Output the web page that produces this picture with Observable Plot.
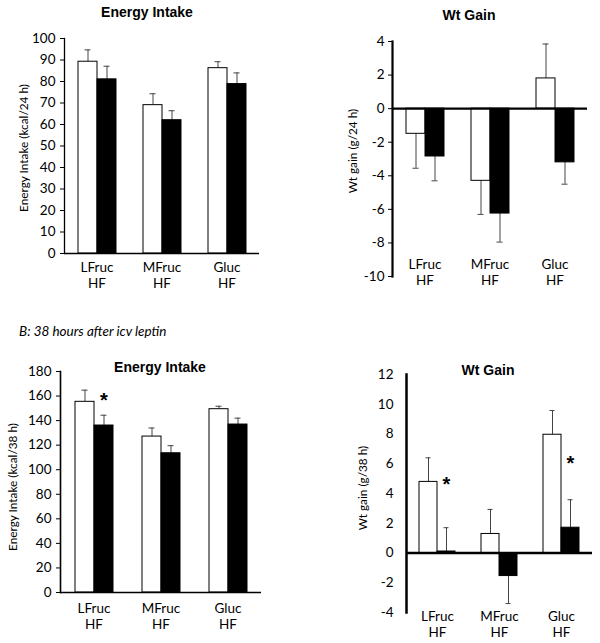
<!DOCTYPE html>
<html>
<head>
<meta charset="utf-8">
<script src="https://cdn.jsdelivr.net/npm/d3@7"></script>
<script src="https://cdn.jsdelivr.net/npm/@observablehq/plot@0.6"></script>
<style>
  body { margin: 0; background: #fff; }
  #root { position: relative; width: 600px; height: 643px; overflow: hidden; font-family: Lato, sans-serif; color: #000; }
  .panel { position: absolute; }
  .title { position: absolute; font-family: "Liberation Sans", Arial, sans-serif; font-weight: bold; font-size: 14px; transform: translate(-50%, -50%); white-space: nowrap; }
  .ylab { position: absolute; font-family: Lato, sans-serif; font-size: 11.8px; transform: translate(-50%, -50%) rotate(-90deg); white-space: nowrap; }
  .sub { position: absolute; font-family: Lato, sans-serif; font-style: italic; font-size: 13.5px; transform: translateY(-50%); white-space: nowrap; }
</style>
</head>
<body>
<div id="root"></div>
<script>
// ---- data ----
const categories = ["LFruc", "MFruc", "Gluc"];
const categoryLabels = ["LFruc\nHF", "MFruc\nHF", "Gluc\nHF"];
const groups = ["vehicle", "leptin"];
const panelTitles = ["Energy Intake", "Wt Gain", "Energy Intake", "Wt Gain"];
const yLabels = ["Energy Intake (kcal/24 h)", "Wt gain (g/24 h)", "Energy Intake (kcal/38 h)", "Wt gain (g/38 h)"];
const subtitleB = "B: 38 hours after icv leptin";

const ei24Open = [89.2, 69, 86.2];
const ei24OpenSem = [5.5, 5.3, 3];
const ei24Filled = [81, 62, 78.8];
const ei24FilledSem = [6.1, 4.4, 5.2];
const ei24Ticks = [0, 10, 20, 30, 40, 50, 60, 70, 80, 90, 100];

const wt24Open = [-1.5, -4.3, 1.8];
const wt24OpenSem = [2.05, 2.0, 2.05];
const wt24Filled = [-2.85, -6.25, -3.2];
const wt24FilledSem = [1.45, 1.7, 1.3];
const wt24Ticks = [-10, -8, -6, -4, -2, 0, 2, 4];

const ei38Open = [155.3, 127, 149.3];
const ei38OpenSem = [9.5, 7, 2.4];
const ei38Filled = [136, 113.4, 136.8];
const ei38FilledSem = [8.4, 6.2, 5.2];
const ei38Ticks = [0, 20, 40, 60, 80, 100, 120, 140, 160, 180];
const ei38Stars = [{cat: "LFruc", group: "leptin", y: 161}];

const wt38Open = [4.78, 1.28, 7.95];
const wt38OpenSem = [1.62, 1.65, 1.63];
const wt38Filled = [0.1, -1.55, 1.7];
const wt38FilledSem = [1.6, 1.85, 1.88];
const wt38Ticks = [-4, -2, 0, 2, 4, 6, 8, 10, 12];
const wt38Stars = [{cat: "LFruc", group: "leptin", y: 5.0}, {cat: "Gluc", group: "leptin", y: 6.4}];

// ---- drawing ----
function buildRows(open, openSem, filled, filledSem) {
  const rows = [];
  categories.forEach((c, i) => {
    rows.push({cat: c, group: "vehicle", value: open[i], end: open[i] + (open[i] < 0 ? -1 : 1) * openSem[i]});
    rows.push({cat: c, group: "leptin", value: filled[i], end: filled[i] + (filled[i] < 0 ? -1 : 1) * filledSem[i]});
  });
  return rows;
}

function barPanel(o) {
  const rows = buildRows(o.open, o.openSem, o.filled, o.filledSem);
  return Plot.plot({
    width: o.width, height: o.height,
    marginLeft: o.ml, marginRight: o.mr, marginTop: o.mt, marginBottom: o.mb,
    style: {fontFamily: "Lato, sans-serif", fontSize: "13px", background: "transparent", color: "black", overflow: "visible"},
    fx: {domain: categories, padding: 0, label: null},
    x: {domain: groups, paddingInner: 0, paddingOuter: 0.7, axis: null},
    y: {domain: [o.ticks[0], o.ticks[o.ticks.length - 1]], label: null},
    marks: [
      Plot.ruleX(rows, {fx: "cat", x: "group", y1: "value", y2: "end", stroke: "#444", strokeWidth: 1}),
      Plot.tickY(rows, {fx: "cat", x: "group", y: "end", stroke: "#444", strokeWidth: 1, insetLeft: 6.5, insetRight: 6.5}),
      Plot.barY(rows, {fx: "cat", x: "group", y: "value", fill: d => d.group === "vehicle" ? "white" : "black", stroke: "black", strokeWidth: 1}),
      Plot.ruleY([0], {stroke: "black", strokeWidth: o.zeroWidth}),
      Plot.frame({anchor: "left", facetAnchor: "left", stroke: "black", strokeWidth: o.axisWidth}),
      Plot.axisY({ticks: o.ticks, tickSize: o.tickSize, tickPadding: o.tickPadding, label: null, fontSize: 13.5,
        tickFormat: d => String(d)}),
      Plot.axisFx({anchor: "bottom", tickSize: 0, tickPadding: o.fxPadding, label: null, fontSize: 13.5, lineHeight: 1.2,
        tickFormat: c => categoryLabels[categories.indexOf(c)]}),
      Plot.text(o.stars || [], {fx: "cat", x: "group", y: "y", text: () => "*", fontSize: 20, fontWeight: "bold",
        fontFamily: "Liberation Sans, Arial, sans-serif", dy: 6})
    ]
  });
}

const root = document.getElementById("root");
function place(el, left, top) {
  el.classList.add("panel");
  el.style.left = left + "px";
  el.style.top = top + "px";
  root.appendChild(el);
}
function addText(cls, text, x, y) {
  const d = document.createElement("div");
  d.className = cls;
  d.textContent = text;
  d.style.left = x + "px";
  d.style.top = y + "px";
  root.appendChild(d);
}

place(barPanel({open: ei24Open, openSem: ei24OpenSem, filled: ei24Filled, filledSem: ei24FilledSem, ticks: ei24Ticks,
  width: 300, height: 300, ml: 63, mr: 40, mt: 38, mb: 47, zeroWidth: 1.3, axisWidth: 1.3, tickSize: 4, tickPadding: 5, fxPadding: 7}), 0, 0);
place(barPanel({open: wt24Open, openSem: wt24OpenSem, filled: wt24Filled, filledSem: wt24FilledSem, ticks: wt24Ticks,
  width: 300, height: 300, ml: 91, mr: 13, mt: 41, mb: 24, zeroWidth: 2.2, axisWidth: 2.2, tickSize: 4, tickPadding: 4, fxPadding: -19}), 300, 0);
place(barPanel({open: ei38Open, openSem: ei38OpenSem, filled: ei38Filled, filledSem: ei38FilledSem, ticks: ei38Ticks, stars: ei38Stars,
  width: 300, height: 343, ml: 59, mr: 38, mt: 71, mb: 51, zeroWidth: 1.6, axisWidth: 1.6, tickSize: 4, tickPadding: 5, fxPadding: 9}), 0, 300);
place(barPanel({open: wt38Open, openSem: wt38OpenSem, filled: wt38Filled, filledSem: wt38FilledSem, ticks: wt38Ticks, stars: wt38Stars,
  width: 300, height: 343, ml: 105, mr: 7, mt: 74, mb: 31, zeroWidth: 2.5, axisWidth: 2.5, tickSize: 0, tickPadding: 13, fxPadding: -3}), 300, 300);

addText("title", panelTitles[0], 147, 12);
addText("title", panelTitles[1], 469, 15);
addText("title", panelTitles[2], 160, 367);
addText("title", panelTitles[3], 488, 370);
addText("ylab", yLabels[0], 23, 148);
addText("ylab", yLabels[1], 352, 151);
addText("ylab", yLabels[2], 12, 487);
addText("ylab", yLabels[3], 362, 488);
addText("sub", subtitleB, 19, 331);
</script>
</body>
</html>
